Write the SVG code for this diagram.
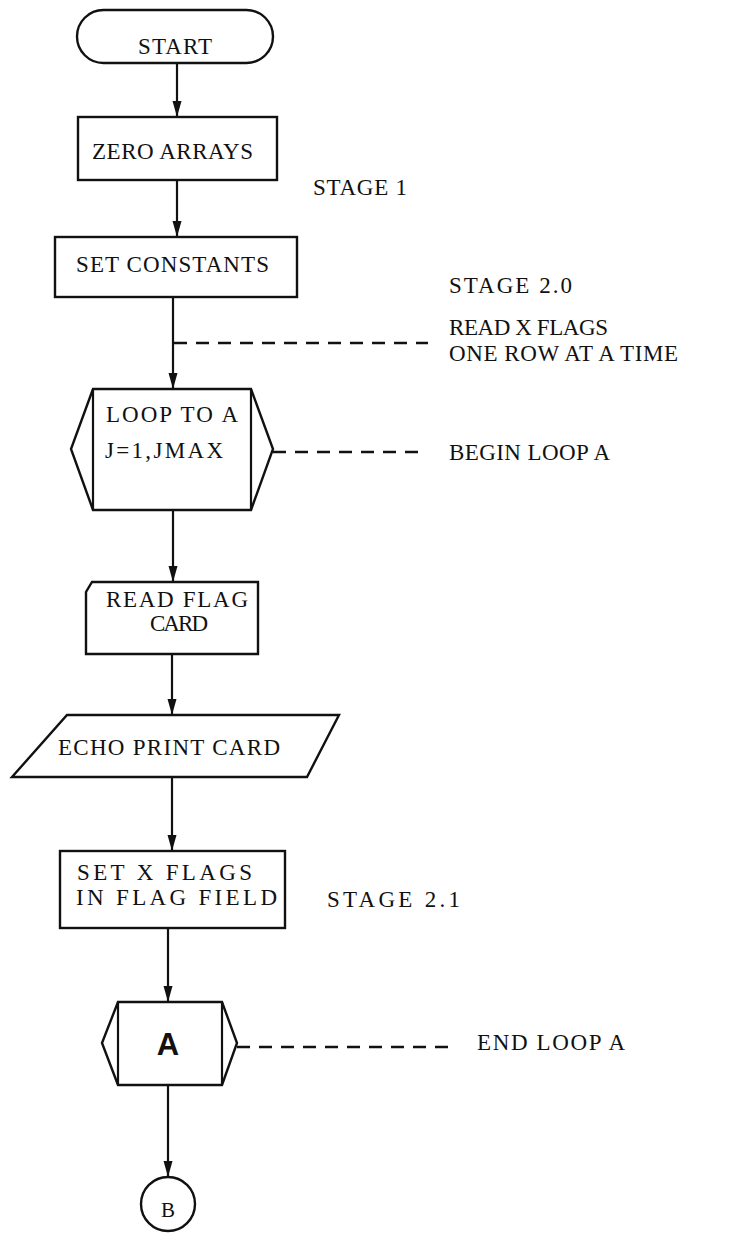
<svg xmlns="http://www.w3.org/2000/svg" width="739" height="1233" viewBox="0 0 739 1233">
<style>
.s{fill:none;stroke:#111;stroke-width:2.4;stroke-linejoin:miter}
.t{font-family:"Liberation Serif","Times New Roman",serif;font-size:23px;fill:#111}
.c{stroke:#111;stroke-width:2.2;fill:none}
.d{stroke:#111;stroke-width:2.4;fill:none;stroke-dasharray:13 9}
</style>
<defs>
<marker id="ah" markerWidth="16" markerHeight="10" refX="16" refY="5" orient="auto" markerUnits="userSpaceOnUse" viewBox="0 0 16 10">
<path d="M0,0.5 L16,5 L0,9.5 Z" fill="#111"/>
</marker>
</defs>
<rect width="739" height="1233" fill="#fff"/>
<g id="connectors">
<line class="c" x1="177" y1="63" x2="177" y2="117" marker-end="url(#ah)"/>
<line class="c" x1="177" y1="180" x2="177" y2="237" marker-end="url(#ah)"/>
<line class="c" x1="173" y1="297" x2="173" y2="389" marker-end="url(#ah)"/>
<line class="c" x1="173" y1="510" x2="173" y2="582" marker-end="url(#ah)"/>
<line class="c" x1="172" y1="654" x2="172" y2="715" marker-end="url(#ah)"/>
<line class="c" x1="172" y1="777" x2="172" y2="851" marker-end="url(#ah)"/>
<line class="c" x1="168" y1="928" x2="168" y2="1002" marker-end="url(#ah)"/>
<line class="c" x1="168" y1="1085" x2="168" y2="1177" marker-end="url(#ah)"/>
<line class="d" x1="174" y1="343" x2="428" y2="343"/>
<line class="d" x1="273" y1="452" x2="420" y2="452"/>
<line class="d" x1="237" y1="1047" x2="453" y2="1047"/>
</g>
<g id="start">
<rect class="s" x="77" y="10" width="196" height="53" rx="26.5"/>
<text class="t" x="138" y="54" textLength="74">START</text>
</g>
<g id="zero-arrays">
<rect class="s" x="78" y="117" width="199" height="63"/>
<text class="t" x="92" y="159" textLength="161">ZERO ARRAYS</text>
</g>
<g id="stage1">
<text class="t" x="313" y="195" textLength="94">STAGE 1</text>
</g>
<g id="set-constants">
<rect class="s" x="55" y="237" width="242" height="60"/>
<text class="t" x="76" y="272" textLength="193">SET CONSTANTS</text>
</g>
<g id="stage20">
<text class="t" x="449" y="293" textLength="123">STAGE 2.0</text>
<text class="t" x="449" y="335" textLength="159">READ X FLAGS</text>
<text class="t" x="449" y="361" textLength="229">ONE ROW AT A TIME</text>
</g>
<g id="loop-to-a">
<polygon class="s" points="93,389 251,389 273,449 251,510 93,510 71,449"/>
<line class="c" x1="93" y1="389" x2="93" y2="510"/>
<line class="c" x1="251" y1="389" x2="251" y2="510"/>
<text class="t" x="106" y="422" textLength="132">LOOP TO A</text>
<text class="t" x="105" y="458" textLength="118">J=1,JMAX</text>
</g>
<g id="begin-loop">
<text class="t" x="449" y="460" textLength="161">BEGIN LOOP A</text>
</g>
<g id="read-flag-card">
<polygon class="s" points="92,582 258,582 258,654 86,654 86,592"/>
<text class="t" x="106" y="607" textLength="142">READ FLAG</text>
<text class="t" x="150" y="631" textLength="58">CARD</text>
</g>
<g id="echo-print">
<polygon class="s" points="67,715 339,715 307,777 12,777"/>
<text class="t" x="58" y="755" textLength="222">ECHO PRINT CARD</text>
</g>
<g id="set-x-flags">
<rect class="s" x="60" y="851" width="225" height="77"/>
<text class="t" x="77" y="880" textLength="175">SET X FLAGS</text>
<text class="t" x="76" y="905" textLength="201">IN FLAG FIELD</text>
</g>
<g id="stage21">
<text class="t" x="327" y="907" textLength="133">STAGE 2.1</text>
</g>
<g id="loop-end-a">
<polygon class="s" points="118,1002 222,1002 237,1043 222,1085 118,1085 102,1043"/>
<line class="c" x1="118" y1="1002" x2="118" y2="1085"/>
<line class="c" x1="222" y1="1002" x2="222" y2="1085"/>
<text x="168" y="1055" text-anchor="middle" font-family="Liberation Sans, Arial, sans-serif" font-weight="bold" font-size="31" fill="#111">A</text>
</g>
<g id="end-loop">
<text class="t" x="477" y="1050" textLength="148">END LOOP A</text>
</g>
<g id="connector-b">
<circle class="s" cx="168" cy="1204" r="27"/>
<text x="168" y="1217" text-anchor="middle" font-family="Liberation Serif, Times New Roman, serif" font-size="21" fill="#111">B</text>
</g>
</svg>
